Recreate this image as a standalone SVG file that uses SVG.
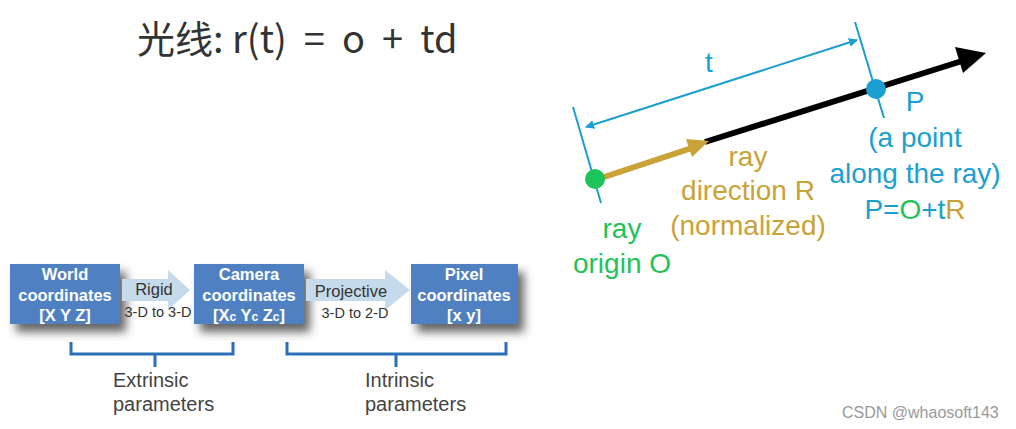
<svg xmlns="http://www.w3.org/2000/svg" width="1016" height="429" viewBox="0 0 1016 429">
<defs>
<style>
.box{fill:#4f81c2}
.bt{font-family:"Liberation Sans",Arial,sans-serif;font-weight:bold;font-size:16.5px;fill:#fff;text-anchor:middle}
.lbl{font-family:"Liberation Sans",Arial,sans-serif;font-size:16.5px;fill:#333;text-anchor:middle}
.sm{font-family:"Liberation Sans",Arial,sans-serif;font-size:14.5px;fill:#333;text-anchor:middle}
.par{font-family:"Liberation Sans",Arial,sans-serif;font-size:20px;fill:#444}
.rt{font-family:"Liberation Sans",Arial,sans-serif;font-size:28px;text-anchor:middle}
.brk{fill:none;stroke:#2b6fb6;stroke-width:3}
</style>
<filter id="sh" x="-30%" y="-30%" width="160%" height="170%">
<feGaussianBlur stdDeviation="5"/>
</filter>
<marker id="ab" viewBox="0 0 10 10" refX="9" refY="5" markerWidth="9" markerHeight="9" markerUnits="userSpaceOnUse" orient="auto-start-reverse">
<path d="M0,0 L10,5 L0,10 z" fill="#1a9fd0"/>
</marker>
</defs>
<rect width="1016" height="429" fill="#fff"/>

<text x="137" y="53" font-family="'Noto Sans CJK SC','Open Sans',sans-serif" font-size="38" fill="#333" xml:space="preserve">光线: r(t)  =  o  +  td</text>

<!-- left diagram shadows -->
<g filter="url(#sh)" fill="#333" opacity="0.75">
<rect x="16" y="272" width="110" height="60"/>
<rect x="200" y="272" width="110" height="60"/>
<rect x="417" y="272" width="107" height="60"/>
</g>

<g id="connectors">
<path d="M122,279 H168 V270 L190,290 L168,310 V301 H122 z" fill="#c5dbeb"/>
<path d="M306,279 H385 V270 L410,290 L385,310 V301 H306 z" fill="#c5dbeb"/>
<path class="brk" d="M71,342 V354 H233 V342 M155,354 V367"/>
<path class="brk" d="M287,342 V354 H506 V342 M396,354 V367"/>
<!-- ray -->
<line x1="573" y1="107" x2="601" y2="203" stroke="#1a9fd0" stroke-width="2"/>
<line x1="855" y1="22" x2="884" y2="118" stroke="#1a9fd0" stroke-width="2"/>
<line x1="586" y1="127" x2="857" y2="40" stroke="#1a9fd0" stroke-width="2" marker-start="url(#ab)" marker-end="url(#ab)"/>
<line x1="705" y1="142" x2="962" y2="61" stroke="#000" stroke-width="6"/>
<path d="M986,53 L955,47 L963,73 z" fill="#000"/>
<line x1="595" y1="180" x2="692" y2="148" stroke="#c9a238" stroke-width="6"/>
<path d="M709,141 L686,139 L692,157 z" fill="#c9a238"/>
</g>

<g id="world">
<rect class="box" x="10" y="264" width="110" height="60"/>
<text class="bt" x="65" y="280">World</text>
<text class="bt" x="65" y="301">coordinates</text>
<text class="bt" x="65" y="321">[X Y Z]</text>
</g>
<g id="camera">
<rect class="box" x="194" y="264" width="110" height="60"/>
<text class="bt" x="249" y="280">Camera</text>
<text class="bt" x="249" y="301">coordinates</text>
<text class="bt" x="249" y="321">[X<tspan font-size="12">c</tspan> Y<tspan font-size="12">c</tspan> Z<tspan font-size="12">c</tspan>]</text>
</g>
<g id="pixel">
<rect class="box" x="411" y="264" width="107" height="60"/>
<text class="bt" x="464" y="280">Pixel</text>
<text class="bt" x="464" y="301">coordinates</text>
<text class="bt" x="464" y="321">[x y]</text>
</g>
<g id="edge-labels">
<text class="lbl" x="154" y="295">Rigid</text>
<text class="sm" x="158" y="317">3-D to 3-D</text>
<text class="lbl" x="351" y="297">Projective</text>
<text class="sm" x="355" y="318">3-D to 2-D</text>
</g>
<g id="extrinsic">
<text class="par" x="113" y="387">Extrinsic</text>
<text class="par" x="113" y="411">parameters</text>
</g>
<g id="intrinsic">
<text class="par" x="365" y="387">Intrinsic</text>
<text class="par" x="365" y="411">parameters</text>
</g>

<g id="origin">
<circle cx="595" cy="179" r="10" fill="#1ec35a"/>
<text class="rt" x="622" y="238" fill="#1ec35a">ray</text>
<text class="rt" x="622" y="273" fill="#1ec35a">origin O</text>
</g>
<g id="direction">
<text class="rt" x="748" y="166" fill="#c9a238">ray</text>
<text class="rt" x="748" y="200" fill="#c9a238">direction R</text>
<text class="rt" x="748" y="235" fill="#c9a238">(normalized)</text>
</g>
<g id="point">
<circle cx="876" cy="89" r="10" fill="#1a9fd0"/>
<text class="rt" x="915" y="111" fill="#1a9fd0">P</text>
<text class="rt" x="915" y="147" fill="#1a9fd0">(a point</text>
<text class="rt" x="915" y="183" fill="#1a9fd0">along the ray)</text>
<text class="rt" x="915" y="219" fill="#1a9fd0">P=<tspan fill="#1ec35a">O</tspan>+t<tspan fill="#c9a238">R</tspan></text>
</g>
<text class="rt" x="709" y="72" fill="#1a9fd0">t</text>

<text x="842" y="418" font-family="'Liberation Sans',Arial,sans-serif" font-size="16" fill="#999">CSDN @whaosoft143</text>
</svg>
